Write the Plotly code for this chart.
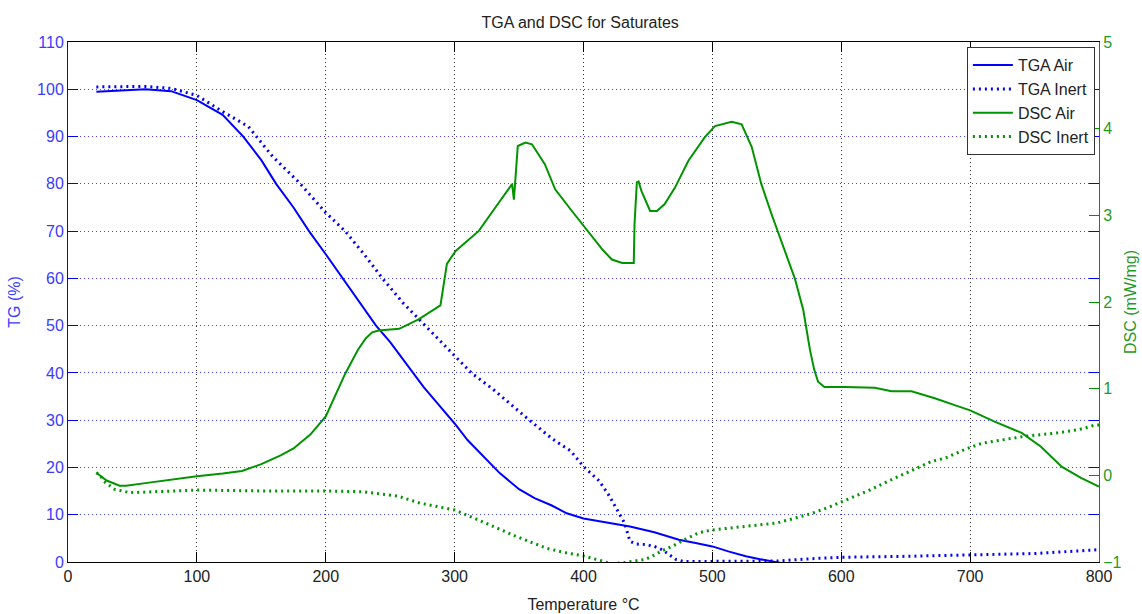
import plotly.graph_objects as go

# ---------------- data ----------------
tga_air_t = [22, 40, 60, 80, 100, 120, 136, 150, 161.5, 175, 187, 200, 213, 226, 239, 250, 262,
             276, 290, 300, 310, 320, 335, 350, 362, 375, 387, 400, 420, 436, 455, 474, 487, 500,
             513, 526, 537, 545, 555, 600, 700, 800]
tga_air = [99.5, 99.8, 100.0, 99.6, 97.7, 94.6, 90.0, 85.0, 80.0, 75.0, 70.0, 65.1, 60.0, 55.0,
           50.0, 46.5, 42.0, 37.0, 32.5, 29.3, 25.8, 23.0, 18.8, 15.4, 13.5, 12.0, 10.3, 9.2, 8.2,
           7.5, 6.3, 4.7, 4.0, 3.3, 2.2, 1.2, 0.6, 0.2, -0.3, -0.4, -0.4, -0.4]

tga_inert_t = [22, 40, 60, 80, 100, 118, 140, 159, 180, 200, 215, 230, 244, 260, 277, 295, 313,
               330, 347, 358, 376, 390, 400, 412, 420, 428, 432, 436, 441, 448, 455, 461, 467, 472,
               478, 500, 550, 577, 600, 650, 700, 750, 800]
tga_inert = [100.5, 100.6, 100.6, 100.2, 98.7, 95.6, 92.1, 85.7, 80.1, 73.9, 70.0, 65.0, 60.0,
             54.8, 50.0, 45.0, 40.0, 36.5, 32.5, 30.0, 26.0, 23.5, 20.2, 17.2, 14.0, 10.3, 8.2, 4.4,
             3.8, 3.7, 3.3, 2.6, 1.5, 0.5, 0.1, 0.1, 0.2, 0.7, 1.0, 1.2, 1.5, 1.8, 2.6]

dsc_air_t = [22, 25, 30, 40, 45, 60, 80, 100, 120, 135, 150, 165, 175, 188, 200, 215, 225, 231,
             236, 241, 257, 272, 289, 291.7, 294, 300.8, 318.8, 331.6, 344.6, 346, 347, 349, 355,
             360, 370, 378, 391, 404, 415, 422, 430, 439, 439.6, 441.4, 442.7, 445, 451.7, 457,
             463, 471, 481.4, 494, 502, 515, 522.7, 530.5, 538, 546, 551, 559, 564, 570.5, 575.7,
             579, 582, 587, 603, 626, 639, 654.5, 672.6, 688, 700, 719, 740, 755, 771, 786, 800]
dsc_air = [0.03, 0.0, -0.06, -0.12, -0.12, -0.09, -0.05, -0.01, 0.02, 0.05, 0.13, 0.23, 0.31,
           0.47, 0.68, 1.17, 1.45, 1.58, 1.65, 1.67, 1.69, 1.80, 1.96, 2.21, 2.44, 2.59, 2.82,
           3.09, 3.36, 3.18, 3.38, 3.80, 3.84, 3.82, 3.59, 3.30, 3.05, 2.80, 2.60, 2.49, 2.45,
           2.45, 2.90, 3.38, 3.39, 3.28, 3.05, 3.05, 3.13, 3.32, 3.63, 3.90, 4.03, 4.08, 4.05,
           3.79, 3.36, 3.01, 2.80, 2.47, 2.27, 1.91, 1.45, 1.22, 1.08, 1.02, 1.02, 1.01, 0.97,
           0.97, 0.89, 0.81, 0.75, 0.62, 0.49, 0.33, 0.10, -0.03, -0.13]

dsc_inert_t = [22, 25, 28, 36, 48, 70, 100, 150, 200, 229, 256, 273, 300, 324, 347, 371, 385,
               400, 410, 415, 422, 430, 440, 448, 455, 461, 470, 480, 490, 500, 525, 550, 565,
               577, 590, 601, 622, 639, 651, 670, 681, 696, 709, 725, 742, 768, 785, 797, 800]
dsc_inert = [0.03, 0.0, -0.07, -0.16, -0.20, -0.19, -0.17, -0.18, -0.18, -0.19, -0.24, -0.32,
             -0.40, -0.55, -0.70, -0.84, -0.89, -0.93, -0.97, -0.99, -1.02, -1.01, -0.99, -0.97,
             -0.92, -0.87, -0.81, -0.73, -0.66, -0.63, -0.59, -0.55, -0.49, -0.44, -0.37, -0.30,
             -0.17, -0.05, 0.03, 0.16, 0.20, 0.30, 0.37, 0.41, 0.45, 0.49, 0.53, 0.58, 0.58]

x_ticks = [0, 100, 200, 300, 400, 500, 600, 700, 800]
tg_ticks = [0, 10, 20, 30, 40, 50, 60, 70, 80, 90, 100, 110]
dsc_ticks = [-1, 0, 1, 2, 3, 4, 5]

# ---------------- style ----------------
BLUE = "#0000ff"
BLUE_TXT = "#3b3bff"
GREEN = "#009400"
GREEN_TXT = "#1f9a1f"
FONT = "Liberation Sans, Arial, sans-serif"

fig = go.Figure()
fig.add_trace(go.Scatter(x=tga_air_t, y=tga_air, name="TGA Air", mode="lines",
                         line=dict(color=BLUE, width=2)))
fig.add_trace(go.Scatter(x=tga_inert_t, y=tga_inert, name="TGA Inert", mode="lines",
                         line=dict(color=BLUE, width=3, dash="2px,4px")))
fig.add_trace(go.Scatter(x=dsc_air_t, y=dsc_air, name="DSC Air", mode="lines", yaxis="y2",
                         line=dict(color=GREEN, width=2)))
fig.add_trace(go.Scatter(x=dsc_inert_t, y=dsc_inert, name="DSC Inert", mode="lines", yaxis="y2",
                         line=dict(color=GREEN, width=3, dash="2px,4px")))

fig.update_layout(
    width=1142, height=614,
    margin=dict(l=68, r=43, t=42, b=52),
    plot_bgcolor="white", paper_bgcolor="white",
    font=dict(family=FONT, size=16, color="#222222"),
    title=dict(text="TGA and DSC for Saturates", x=0.508, xanchor="center",
               y=0.964, yanchor="middle", font=dict(size=16, color="#222222")),
    showlegend=True,
    legend=dict(x=0.996, xanchor="right", y=0.99, yanchor="top",
                bgcolor="white", bordercolor="#333333", borderwidth=1,
                font=dict(size=16, color="#222222"), itemwidth=40,
                tracegroupgap=0),
    xaxis=dict(range=[0, 800], tickvals=x_ticks, ticks="inside", ticklen=10,
               tickcolor="black", showline=True, linecolor="black", linewidth=1,
               mirror="ticks", showgrid=True, gridcolor="#333333", gridwidth=1,
               griddash="1px,3px", zeroline=False, automargin=False,
               tickfont=dict(size=16, color="#222222"),
               title=dict(text="Temperature °C", standoff=14,
                          font=dict(size=16, color="#222222"))),
    yaxis=dict(range=[0, 110], tickvals=tg_ticks, ticks="inside", ticklen=10,
               tickcolor=BLUE, showline=True, linecolor=BLUE, linewidth=1,
               mirror="ticks", showgrid=True, gridcolor="#4444ff", gridwidth=1,
               griddash="1px,3px", zeroline=False, automargin=False,
               tickfont=dict(size=16, color=BLUE_TXT),
               title=dict(text="TG (%)", standoff=12, font=dict(size=16, color=BLUE_TXT))),
    yaxis2=dict(range=[-1, 5], tickvals=dsc_ticks, overlaying="y", side="right",
                ticks="inside", ticklen=10, tickcolor=GREEN, showline=True,
                linecolor=GREEN, linewidth=1, showgrid=False, zeroline=False,
                automargin=False,
                tickfont=dict(size=16, color=GREEN_TXT),
                title=dict(text="DSC (mW/mg)", standoff=4,
                           font=dict(size=16, color=GREEN_TXT))),
)

# remove the default page margin so the 1142x614 figure fills the window exactly
fig.write_html("out.html", config={"displayModeBar": False},
               post_script="document.body.style.margin='0';document.body.style.overflow='hidden';")
